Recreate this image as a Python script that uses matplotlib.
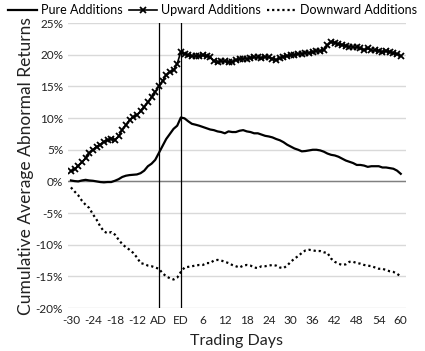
import numpy as np
import matplotlib.pyplot as plt

days = list(range(-30, 61))

pure = [0.15, 0.05, 0.0, 0.15, 0.25, 0.15, 0.1, 0.0, -0.1, -0.15,
        -0.1, -0.1, 0.1, 0.35, 0.7, 0.9, 1.0, 1.05, 1.1, 1.3,
        1.7, 2.4, 2.8, 3.4, 4.5, 5.6, 6.7, 7.5, 8.3, 8.8,
        10.1, 9.96, 9.5, 9.1, 8.96, 8.8, 8.6, 8.4, 8.2, 8.1,
        7.9, 7.8, 7.6, 7.9, 7.8, 7.8, 8.0, 8.1, 7.9, 7.8,
        7.6, 7.6, 7.4, 7.2, 7.1, 6.95, 6.7, 6.5, 6.2, 5.8,
        5.5, 5.2, 5.0, 4.75, 4.8, 4.9, 5.0, 5.0, 4.9, 4.7,
        4.4, 4.2, 4.1, 3.9, 3.6, 3.3, 3.1, 2.9, 2.6, 2.6,
        2.5, 2.3, 2.4, 2.4, 2.4, 2.2, 2.2, 2.1, 2.0, 1.7,
        1.2]

upward = [1.6, 1.9, 2.5, 3.0, 3.7, 4.5, 5.0, 5.5, 5.8, 6.3,
          6.6, 6.7, 6.6, 7.1, 8.2, 8.9, 9.7, 10.2, 10.5, 11.1,
          11.8, 12.5, 13.3, 14.2, 15.0, 15.9, 16.8, 17.3, 17.6, 18.6,
          20.5, 20.2, 19.9, 19.8, 19.8, 19.8, 19.9, 19.8, 19.6, 19.0,
          18.8, 19.0, 19.0, 18.8, 18.9, 19.2, 19.3, 19.4, 19.4, 19.5,
          19.6, 19.6, 19.5, 19.7, 19.6, 19.4, 19.2, 19.5, 19.7, 19.8,
          19.9, 20.0, 20.1, 20.2, 20.3, 20.3, 20.5, 20.6, 20.6, 20.8,
          21.5, 22.1, 21.9, 21.7, 21.6, 21.4, 21.3, 21.2, 21.2, 21.0,
          20.8, 21.0, 20.7, 20.7, 20.6, 20.5, 20.6, 20.4, 20.3, 20.1,
          19.8]

downward = [-0.95, -1.6, -2.2, -3.05, -3.7, -4.2, -5.2, -6.05, -7.1, -7.9,
            -8.2, -8.0, -8.4, -9.2, -9.9, -10.4, -10.8, -11.3, -12.0, -12.9,
            -13.05, -13.3, -13.4, -13.6, -13.8, -14.5, -15.0, -15.3, -15.5, -15.2,
            -14.3, -13.6, -13.5, -13.4, -13.3, -13.2, -13.2, -12.9, -12.9, -12.5,
            -12.4, -12.5, -12.7, -12.9, -13.2, -13.4, -13.6, -13.3, -13.2, -13.3,
            -13.6, -13.7, -13.4, -13.4, -13.3, -13.2, -13.3, -13.6, -13.7, -13.3,
            -12.7, -12.2, -11.8, -11.3, -10.9, -10.8, -10.9, -11.0, -11.0, -11.2,
            -11.3, -12.2, -12.7, -13.0, -13.2, -13.1, -12.7, -12.7, -12.9, -13.0,
            -13.2, -13.3, -13.4, -13.6, -13.8, -13.8, -14.0, -14.2, -14.3, -14.6,
            -15.0]

xtick_pos = [-30, -24, -18, -12, -6, 0, 6, 12, 18, 24, 30, 36, 42, 48, 54, 60]
xtick_labels = ['-30', '-24', '-18', '-12', 'AD', 'ED', '6', '12', '18', '24',
                '30', '36', '42', '48', '54', '60']
ytick_pos = [-20, -15, -10, -5, 0, 5, 10, 15, 20, 25]
event_days = [-6, 0]

plt.rcParams['font.family'] = ['Lato', 'DejaVu Sans']

fig = plt.figure(figsize=(4.25, 3.51), dpi=100)
ax = fig.add_axes([0.16, 0.1225, 0.795, 0.8115])

for y in ytick_pos:
    ax.axhline(y, color='#d9d9d9', lw=1, zorder=0)
ax.axhline(0, color='#808080', lw=1, zorder=1)
for d in event_days:
    ax.axvline(d, color='black', lw=0.9, zorder=1)

ax.plot(days, pure, color='black', lw=1.6, label='Pure Additions', zorder=3)
ax.plot(days, upward, color='black', lw=1.2, marker='x', ms=4, mew=1.3,
        label='Upward Additions', zorder=3)
ax.plot(days, downward, color='black', lw=1.6, ls=(0, (1, 1.3)),
        label='Downward Additions', zorder=3)

ax.set_xlim(-30.8, 61.4)
ax.set_ylim(-20, 25)
ax.set_xticks(xtick_pos)
ax.set_xticklabels(xtick_labels)
ax.set_yticks(ytick_pos)
ax.set_yticklabels([str(v) + '%' for v in ytick_pos])
ax.tick_params(length=0, labelsize=8.5, colors='#222222')
ax.tick_params(axis='x', pad=5)
for s in ax.spines.values():
    s.set_visible(False)

ax.set_xlabel('Trading Days', fontsize=11.5, labelpad=6, color='#222222')
ax.set_ylabel('Cumulative Average Abnormal Returns', fontsize=12.5, labelpad=1, color='#222222')

fig.legend(loc='upper center', bbox_to_anchor=(0.5, 1.02), ncol=3, frameon=False,
           fontsize=9, handlelength=2.3, columnspacing=0.5, handletextpad=0.3)

fig.savefig('out.png', dpi=100)
